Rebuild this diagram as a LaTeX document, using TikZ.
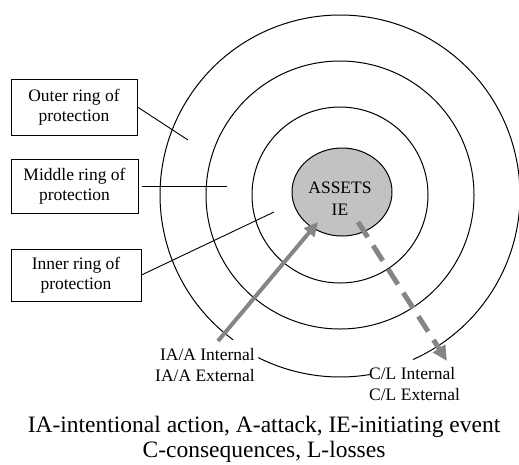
\documentclass[tikz,border=0pt]{standalone}
\usepackage{fontspec}
\setmainfont{Liberation Serif}
\usetikzlibrary{arrows.meta}
\definecolor{arrowgray}{gray}{0.52}
\definecolor{assetgray}{gray}{0.76}

\begin{document}
\begin{tikzpicture}[x=1pt,y=-1pt,
  ring/.style={draw=black, line width=1pt},
  labelbox/.style={draw=black, line width=1pt, inner sep=0pt, align=center,
    font=\fontsize{17.5}{20}\selectfont},
  leader/.style={draw=black, line width=0.9pt},
  plainlabel/.style={inner sep=1pt, font=\fontsize{17.5}{21.5}\selectfont},
  legendline/.style={inner sep=0pt, anchor=base, font=\fontsize{23.5}{26}\selectfont},
  attackarrow/.style={draw=arrowgray, line width=4pt,
    -{Triangle[length=14pt,width=13pt,fill=arrowgray]}},
  lossarrow/.style={draw=arrowgray, line width=5pt, dash pattern=on 18pt off 10pt,
    -{Triangle[length=15pt,width=14pt,fill=arrowgray]}}
]
\useasboundingbox (0,0) rectangle (519,464);

% concentric rings of protection
\coordinate (c) at (340,195);
\draw[ring] (c) circle[radius=88];
\draw[ring] (c) circle[radius=134];
% outer ring, broken where the bottom labels sit
\draw[ring] (c) ++(126.4:180) arc[start angle=126.4, end angle=426.1, radius=180];
\draw[ring] (c) ++(80.6:182) arc[start angle=80.6, end angle=116.7, radius=182];

% assets core
\draw[ring, fill=assetgray] (342,192) ellipse[x radius=50, y radius=44];
\node[plainlabel, align=center, font=\fontsize{17.5}{22}\selectfont] (assets) at (340,199) {ASSETS\\IE};

% ring labels
\node[labelbox, minimum width=126, minimum height=56] (outerbox) at (74,107) {Outer ring of\\protection};
\node[labelbox, minimum width=127, minimum height=54] (midbox) at (74.5,186) {Middle ring of\\protection};
\node[labelbox, minimum width=130, minimum height=52] (innerbox) at (76,275) {Inner ring of\\protection};

\coordinate (outerpt) at (188,140);
\coordinate (midpt) at (227,186);
\coordinate (innerpt) at (274,212);
\draw[leader] (outerbox.east) -- (outerpt);
\draw[leader] ([xshift=3pt]midbox.east) -- (midpt);
\draw[leader] (innerbox.east) -- (innerpt);

% bottom labels
\node[plainlabel, anchor=east, align=right] (ialabel) at (256,365) {IA/A Internal\\IA/A External};
\node[plainlabel, anchor=west, align=left] (cllabel) at (368,384) {C/L Internal\\C/L External};

% attack and loss arrows
\coordinate (iastart) at (218,341);
\coordinate (iatip) at (318,222);
\coordinate (clstart) at (358,222);
\coordinate (cltip) at (447,361);
\draw[attackarrow] (iastart) -- (iatip);
\draw[lossarrow] (clstart) -- (cltip);

% legend
\node[legendline] (legendA) at (264,432) {IA-intentional action, A-attack, IE-initiating event};
\node[legendline] (legendB) at (264,457) {C-consequences, L-losses};
\end{tikzpicture}
\end{document}
